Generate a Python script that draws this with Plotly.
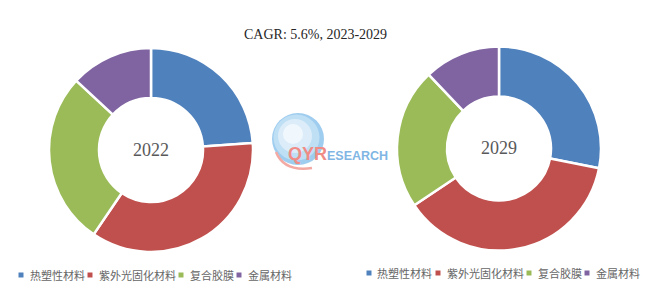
import plotly.graph_objects as go

W, H = 652, 296

categories = ["热塑性材料", "紫外光固化材料", "复合胶膜", "金属材料"]
values_2022 = [23.9, 35.6, 27.4, 13.1]
values_2029 = [28.1, 37.5, 22.3, 12.1]
years = ["2022", "2029"]
colors = ["#4F81BD", "#C0504D", "#9BBB59", "#8064A2"]
title_text = "CAGR: 5.6%, 2023-2029"


def px_x(x):
    return x / W


def px_y(y):
    return 1 - y / H


fig = go.Figure()

pies = [
    (values_2022, (49, 253), (48, 252), years[0]),
    (values_2029, (397, 601), (46.5, 250.5), years[1]),
]
for vals, (x0, x1), (y0, y1), yr in pies:
    fig.add_trace(go.Pie(
        labels=categories,
        values=vals,
        hole=0.51,
        sort=False,
        direction="clockwise",
        rotation=0,
        marker=dict(colors=colors, line=dict(color="white", width=2.5)),
        textinfo="none",
        hoverinfo="label+percent",
        showlegend=False,
        domain=dict(x=[px_x(x0), px_x(x1)], y=[px_y(y1), px_y(y0)]),
        name=yr,
    ))
    fig.add_annotation(
        x=px_x((x0 + x1) / 2), y=px_y((y0 + y1) / 2 - 0.5),
        xref="paper", yref="paper", text=yr, showarrow=False,
        font=dict(family="Liberation Serif", size=18, color="#595959"),
        xanchor="center", yanchor="middle",
    )

# title
fig.add_annotation(
    x=px_x(315), y=px_y(34), xref="paper", yref="paper",
    text=title_text, showarrow=False,
    font=dict(family="Liberation Serif", size=14, color="#262626"),
    xanchor="center", yanchor="middle",
)

# watermark logo (globe)
cx, cy = 298, 139
for r, col, dx, dy in [(26, "#9fcdef", 0, 0), (23, "#bfdff5", -1.5, -1.5),
                       (17, "#dcedf9", -3, -3), (10, "#f1f8fd", -5, -5)]:
    fig.add_shape(type="circle", xref="paper", yref="paper",
                  x0=px_x(cx + dx - r), x1=px_x(cx + dx + r),
                  y0=px_y(cy + dy + r), y1=px_y(cy + dy - r),
                  fillcolor=col, line=dict(width=0), layer="above")
fig.add_shape(
    type="path", xref="paper", yref="paper", layer="above",
    path=(f"M {px_x(276)} {px_y(152)} Q {px_x(284)} {px_y(172)} {px_x(312)} {px_y(168)}"),
    line=dict(color="#f4aaa4", width=2.5),
)
fig.add_annotation(
    x=px_x(286), y=px_y(154), xref="paper", yref="paper",
    text='<span style="color:#f08c86;font-size:18px"><b>QYR</b></span>'
         '<span style="color:#7fb6e4;font-size:12.5px"><b>ESEARCH</b></span>',
    showarrow=False, xanchor="left", yanchor="middle",
    font=dict(family="Liberation Sans", size=12),
)

# manual legends
char_w = 11.0
legend_font = dict(family="Noto Sans CJK SC", size=11, color="#666666")
for start_x, ly in [(21, 275), (369, 273)]:
    x = start_x
    for cat, col in zip(categories, colors):
        fig.add_shape(type="rect", xref="paper", yref="paper",
                      x0=px_x(x - 2.5), x1=px_x(x + 2.5),
                      y0=px_y(ly + 2.5), y1=px_y(ly - 2.5),
                      fillcolor=col, line=dict(width=0))
        fig.add_annotation(
            x=px_x(x + 6.5), y=px_y(ly), xref="paper", yref="paper",
            text=cat, showarrow=False, xanchor="left", yanchor="middle",
            font=legend_font,
        )
        x = x + 6.5 + len(cat) * char_w + 7.5

fig.update_layout(
    width=W, height=H,
    margin=dict(l=0, r=0, t=0, b=0),
    paper_bgcolor="white", plot_bgcolor="white",
    showlegend=False,
)

fig.write_html("out.html")
